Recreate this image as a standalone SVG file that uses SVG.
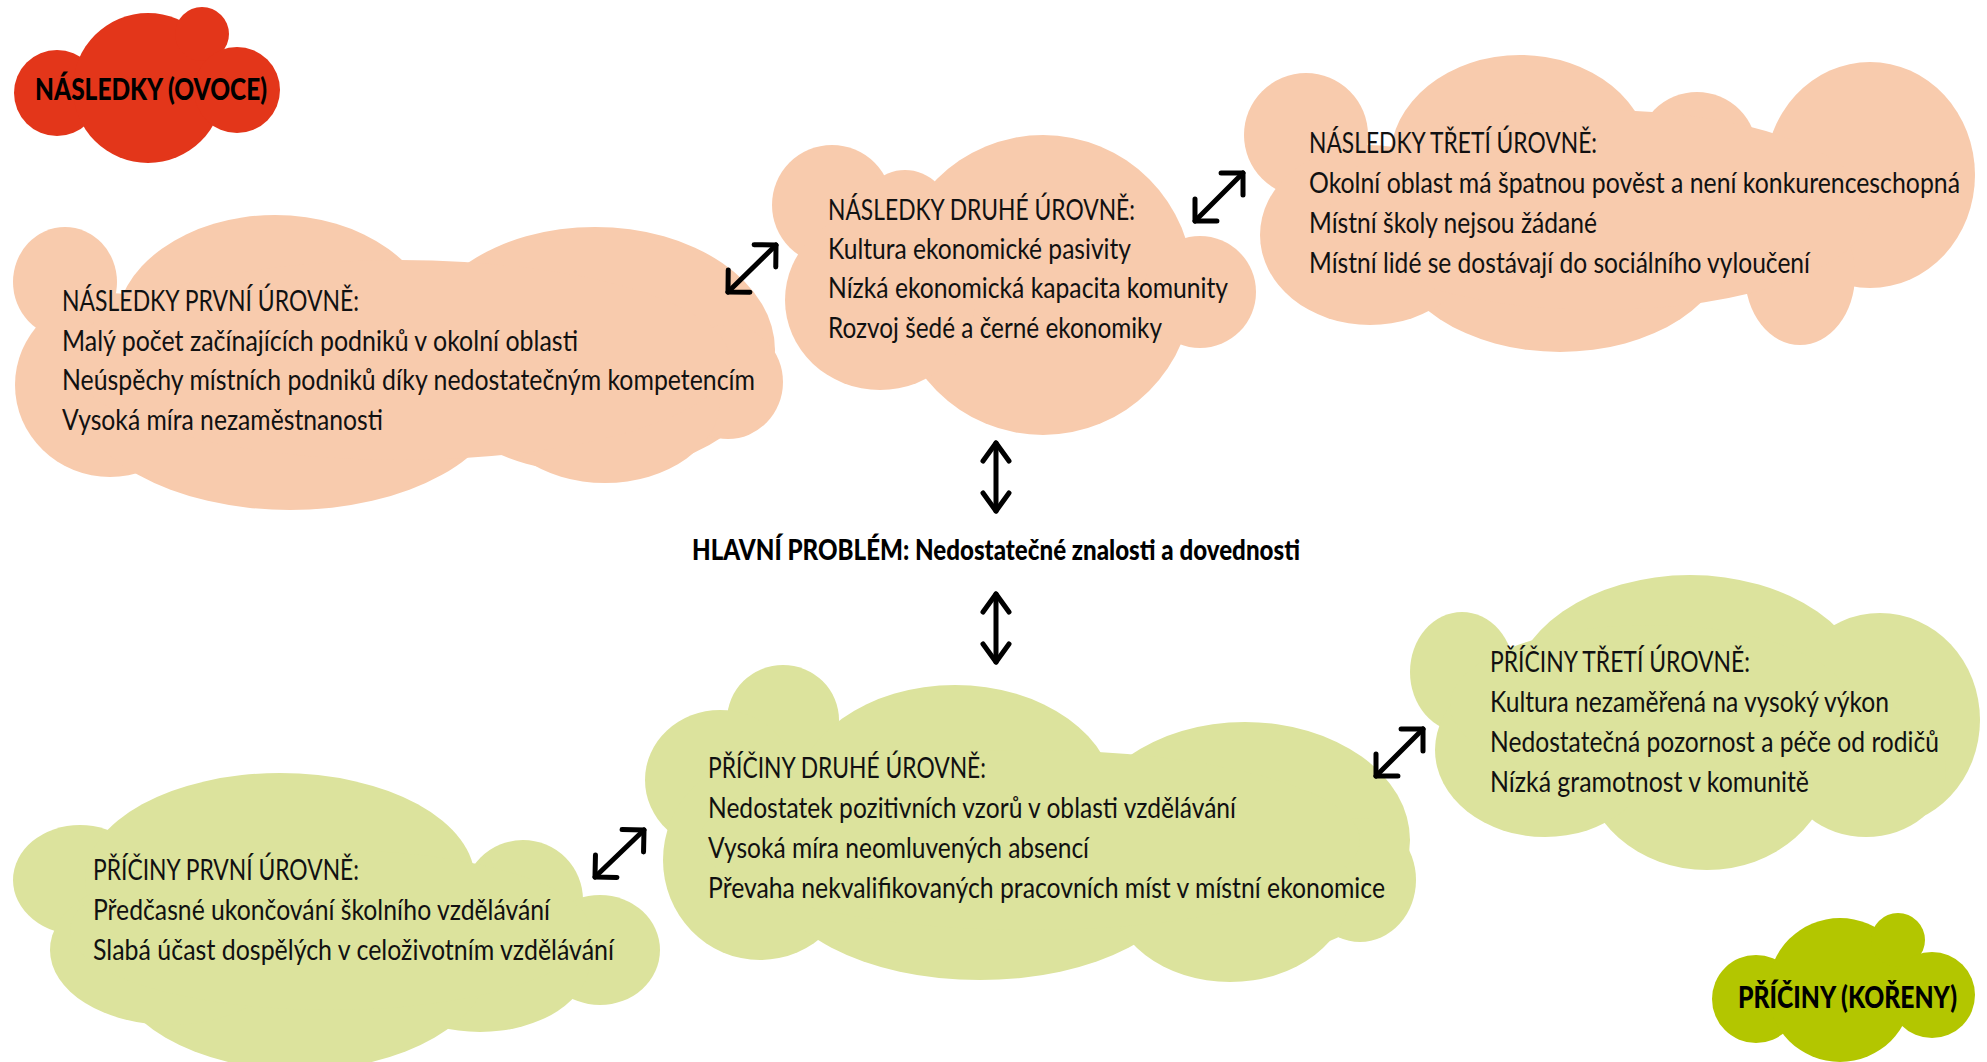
<svg xmlns="http://www.w3.org/2000/svg" width="1987" height="1062" viewBox="0 0 1987 1062">
<style>
.peach{fill:#F8CBAD}
.lgreen{fill:#DCE39D}
.red{fill:#E3361A}
.dgreen{fill:#B3C600}
.t{font-family:Lato,"Open Sans","Liberation Sans",sans-serif;font-size:28px;fill:#111}
.b{font-family:Lato,"Open Sans","Liberation Sans",sans-serif;font-weight:900;fill:#000}
.arr{stroke:#000;stroke-width:5;fill:none;stroke-linecap:round}
.head{stroke:#000;stroke-width:5;fill:none;stroke-linecap:round;stroke-linejoin:round}
</style>
<defs>
<marker id="ahv" markerUnits="userSpaceOnUse" markerWidth="40" markerHeight="40" refX="0" refY="0" viewBox="-25 -20 30 40" orient="auto-start-reverse" overflow="visible">
<path class="head" d="M-18,-13 L0,0 L-18,13"/>
</marker>
<marker id="ahd" markerUnits="userSpaceOnUse" markerWidth="40" markerHeight="40" refX="0" refY="0" viewBox="-25 -20 30 40" orient="auto-start-reverse" overflow="visible">
<path class="head" d="M-15.5,-15.5 L0,0 L-15.5,15.5"/>
</marker>
</defs>
<rect width="1987" height="1062" fill="#fff"/>

<g id="label-nasledky">
<g class="red">
<circle cx="57" cy="93" r="43"/>
<circle cx="148" cy="88" r="75"/>
<circle cx="202" cy="34" r="27"/>
<circle cx="237" cy="90" r="43"/>
</g>
<text class="b" x="35" y="100" font-size="30" textLength="232" lengthAdjust="spacingAndGlyphs">NÁSLEDKY (OVOCE)</text>
</g>

<g id="nasledky-1">
<g class="peach">
<ellipse cx="65" cy="282" rx="52" ry="55"/>
<ellipse cx="110" cy="385" rx="95" ry="92"/>
<ellipse cx="275" cy="330" rx="160" ry="115"/>
<ellipse cx="595" cy="350" rx="180" ry="123"/>
<ellipse cx="728" cy="382" rx="55" ry="57"/>
<ellipse cx="605" cy="400" rx="115" ry="83"/>
<ellipse cx="290" cy="390" rx="215" ry="120"/>
<ellipse cx="400" cy="360" rx="330" ry="100"/>
</g>
<text class="t" x="62" y="311" textLength="297" lengthAdjust="spacingAndGlyphs">NÁSLEDKY PRVNÍ ÚROVNĚ:</text>
<text class="t" x="62" y="351" textLength="516" lengthAdjust="spacingAndGlyphs">Malý počet začínajících podniků v okolní oblasti</text>
<text class="t" x="62" y="390" textLength="693" lengthAdjust="spacingAndGlyphs">Neúspěchy místních podniků díky nedostatečným kompetencím</text>
<text class="t" x="62" y="430" textLength="321" lengthAdjust="spacingAndGlyphs">Vysoká míra nezaměstnanosti</text>
</g>

<g id="nasledky-2">
<g class="peach">
<circle cx="832" cy="205" r="60"/>
<circle cx="905" cy="215" r="45"/>
<ellipse cx="1043" cy="285" rx="150" ry="150"/>
<circle cx="1200" cy="292" r="56"/>
<ellipse cx="880" cy="300" rx="95" ry="90"/>
</g>
<text class="t" x="828" y="220" textLength="307" lengthAdjust="spacingAndGlyphs">NÁSLEDKY DRUHÉ ÚROVNĚ:</text>
<text class="t" x="828" y="259" textLength="303" lengthAdjust="spacingAndGlyphs">Kultura ekonomické pasivity</text>
<text class="t" x="828" y="298" textLength="400" lengthAdjust="spacingAndGlyphs">Nízká ekonomická kapacita komunity</text>
<text class="t" x="828" y="338" textLength="334" lengthAdjust="spacingAndGlyphs">Rozvoj šedé a černé ekonomiky</text>
</g>

<g id="nasledky-3">
<g class="peach">
<ellipse cx="1306" cy="135" rx="62" ry="62"/>
<ellipse cx="1520" cy="160" rx="130" ry="105"/>
<circle cx="1697" cy="152" r="60"/>
<ellipse cx="1870" cy="175" rx="105" ry="113"/>
<ellipse cx="1800" cy="275" rx="55" ry="70"/>
<ellipse cx="1560" cy="240" rx="170" ry="112"/>
<ellipse cx="1370" cy="235" rx="110" ry="90"/>
<ellipse cx="1600" cy="210" rx="270" ry="100"/>
</g>
<text class="t" x="1309" y="153" textLength="288" lengthAdjust="spacingAndGlyphs">NÁSLEDKY TŘETÍ ÚROVNĚ:</text>
<text class="t" transform="translate(1309 193) scale(0.85 1)" x="0" y="0" textLength="765.9" lengthAdjust="spacingAndGlyphs">Okolní oblast má špatnou pověst a není konkurenceschopná</text>
<text class="t" x="1309" y="233" textLength="288" lengthAdjust="spacingAndGlyphs">Místní školy nejsou žádané</text>
<text class="t" x="1309" y="273" textLength="501" lengthAdjust="spacingAndGlyphs">Místní lidé se dostávají do sociálního vyloučení</text>
</g>

<g id="hlavni-problem">
<text class="b" x="692" y="560" font-size="29" textLength="608" lengthAdjust="spacingAndGlyphs">HLAVNÍ PROBLÉM: Nedostatečné znalosti a dovednosti</text>
</g>

<g id="priciny-3">
<g class="lgreen">
<ellipse cx="1462" cy="672" rx="52" ry="60"/>
<ellipse cx="1690" cy="700" rx="180" ry="125"/>
<ellipse cx="1707" cy="760" rx="125" ry="110"/>
<ellipse cx="1880" cy="720" rx="100" ry="107"/>
<ellipse cx="1545" cy="750" rx="110" ry="87"/>
<ellipse cx="1866" cy="770" rx="80" ry="67"/>
<ellipse cx="1650" cy="705" rx="200" ry="80"/>
</g>
<text class="t" x="1490" y="672" textLength="260" lengthAdjust="spacingAndGlyphs">PŘÍČINY TŘETÍ ÚROVNĚ:</text>
<text class="t" x="1490" y="712" textLength="399" lengthAdjust="spacingAndGlyphs">Kultura nezaměřená na vysoký výkon</text>
<text class="t" transform="translate(1490 752) scale(0.85 1)" x="0" y="0" textLength="528.2" lengthAdjust="spacingAndGlyphs">Nedostatečná pozornost a péče od rodičů</text>
<text class="t" x="1490" y="792" textLength="319" lengthAdjust="spacingAndGlyphs">Nízká gramotnost v komunitě</text>
</g>

<g id="priciny-2">
<g class="lgreen">
<ellipse cx="783" cy="720" rx="56" ry="55"/>
<ellipse cx="720" cy="780" rx="75" ry="70"/>
<ellipse cx="760" cy="860" rx="97" ry="100"/>
<ellipse cx="955" cy="800" rx="160" ry="115"/>
<ellipse cx="1245" cy="840" rx="165" ry="118"/>
<ellipse cx="1360" cy="880" rx="56" ry="62"/>
<ellipse cx="980" cy="870" rx="210" ry="110"/>
<ellipse cx="1230" cy="890" rx="120" ry="92"/>
<ellipse cx="1030" cy="840" rx="330" ry="90"/>
</g>
<text class="t" x="708" y="778" textLength="278" lengthAdjust="spacingAndGlyphs">PŘÍČINY DRUHÉ ÚROVNĚ:</text>
<text class="t" x="708" y="818" textLength="528" lengthAdjust="spacingAndGlyphs">Nedostatek pozitivních vzorů v oblasti vzdělávání</text>
<text class="t" x="708" y="858" textLength="381" lengthAdjust="spacingAndGlyphs">Vysoká míra neomluvených absencí</text>
<text class="t" x="708" y="898" textLength="677" lengthAdjust="spacingAndGlyphs">Převaha nekvalifikovaných pracovních míst v místní ekonomice</text>
</g>

<g id="priciny-1">
<g class="lgreen">
<ellipse cx="80" cy="880" rx="67" ry="55"/>
<ellipse cx="280" cy="880" rx="195" ry="107"/>
<ellipse cx="523" cy="900" rx="60" ry="60"/>
<ellipse cx="600" cy="950" rx="60" ry="55"/>
<ellipse cx="480" cy="960" rx="110" ry="72"/>
<ellipse cx="300" cy="960" rx="190" ry="110"/>
<ellipse cx="170" cy="950" rx="120" ry="75"/>
<ellipse cx="330" cy="930" rx="260" ry="80"/>
</g>
<text class="t" x="93" y="880" textLength="266" lengthAdjust="spacingAndGlyphs">PŘÍČINY PRVNÍ ÚROVNĚ:</text>
<text class="t" x="93" y="920" textLength="457" lengthAdjust="spacingAndGlyphs">Předčasné ukončování školního vzdělávání</text>
<text class="t" x="93" y="960" textLength="521" lengthAdjust="spacingAndGlyphs">Slabá účast dospělých v celoživotním vzdělávání</text>
</g>

<g id="label-priciny">
<g class="dgreen">
<circle cx="1756" cy="999" r="44"/>
<circle cx="1840" cy="990" r="72"/>
<circle cx="1898" cy="940" r="27"/>
<circle cx="1932" cy="995" r="43"/>
</g>
<text class="b" transform="translate(1738 1008) scale(0.75 1)" x="0" y="0" font-size="30" textLength="292" lengthAdjust="spacingAndGlyphs">PŘÍČINY (KOŘENY)</text>
</g>

<g id="connectors">
<line class="arr" x1="996" y1="443" x2="996" y2="511" marker-start="url(#ahv)" marker-end="url(#ahv)"/>
<line class="arr" x1="996" y1="594" x2="996" y2="662" marker-start="url(#ahv)" marker-end="url(#ahv)"/>
<line class="arr" x1="728" y1="292" x2="776" y2="245" marker-start="url(#ahd)" marker-end="url(#ahd)"/>
<line class="arr" x1="1195" y1="221" x2="1243" y2="173" marker-start="url(#ahd)" marker-end="url(#ahd)"/>
<line class="arr" x1="1376" y1="776" x2="1423" y2="729" marker-start="url(#ahd)" marker-end="url(#ahd)"/>
<line class="arr" x1="595" y1="877" x2="644" y2="830" marker-start="url(#ahd)" marker-end="url(#ahd)"/>
</g>
</svg>
